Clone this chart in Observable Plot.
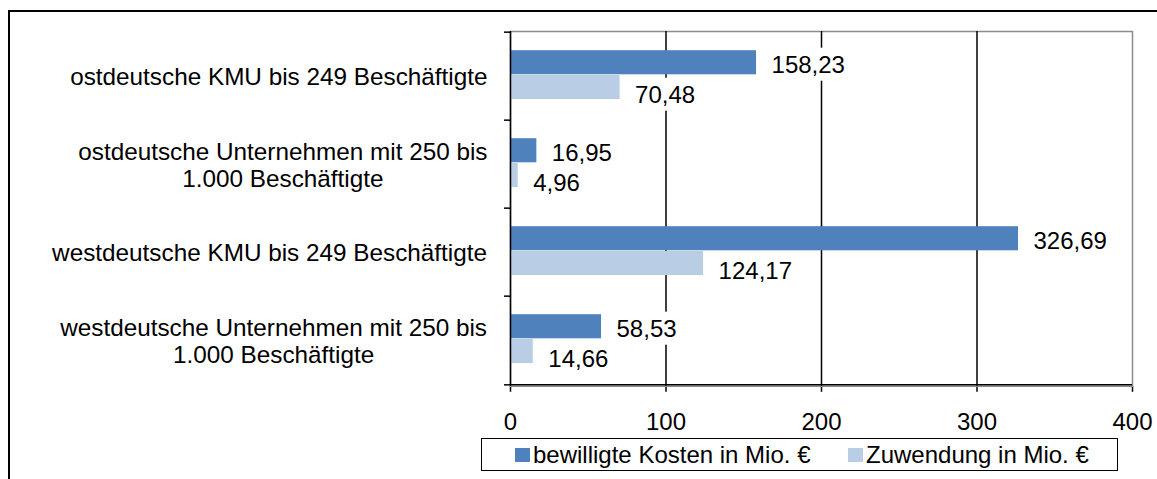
<!DOCTYPE html>
<html>
<head>
<meta charset="utf-8">
<script src="https://cdn.jsdelivr.net/npm/d3@7"></script>
<script src="https://cdn.jsdelivr.net/npm/@observablehq/plot@0.6"></script>
<style>
html, body { margin: 0; padding: 0; overflow: hidden; background: #fff; width: 1157px; height: 479px; }
#frame { position: absolute; left: 8px; top: 10px; width: 1300px; height: 700px; border: 2px solid #000; box-sizing: border-box; }
#chart { position: absolute; left: 0; top: 0; }
#legend { position: absolute; left: 481px; top: 438px; width: 637px; height: 33px; border: 1px solid #000; box-sizing: border-box; background: #fff;
  font: 24px "Liberation Sans", Arial, sans-serif; color: #000; }
#legend .item { position: absolute; top: 0; height: 31px; display: flex; align-items: center; white-space: nowrap; }
#legend .sw { width: 15px; height: 14px; margin-right: 3px; }
</style>
</head>
<body>
<div id="frame"></div>
<div id="chart"></div>
<div id="legend"></div>
<script>
const categories = [
  "ostdeutsche KMU bis 249 Beschäftigte",
  "ostdeutsche Unternehmen mit 250 bis\n1.000 Beschäftigte",
  "westdeutsche KMU bis 249 Beschäftigte",
  "westdeutsche Unternehmen mit 250 bis\n1.000 Beschäftigte"
];
const seriesNames = ["bewilligte Kosten in Mio. €", "Zuwendung in Mio. €"];
const kosten = [158.23, 16.95, 326.69, 58.53];
const zuwendung = [70.48, 4.96, 124.17, 14.66];
const xTicks = [0, 100, 200, 300, 400];
const gridValues = [100, 200, 300];
const colors = ["#4F81BD", "#B9CDE5"];

const W = 1157, H = 436;
const mL = 510, mR = 25, mT = 31, mB = 50.2;
const step = (H - mT - mB) / categories.length;
const barTop = 18.2, barH = 24.8;

const rowsK = categories.map((c, i) => ({category: c, value: kosten[i]}));
const rowsZ = categories.map((c, i) => ({category: c, value: zuwendung[i]}));
const fmt = d3.formatLocale({decimal: ",", thousands: ".", grouping: [3], currency: ["", "€"]}).format(".2f");

const plot = Plot.plot({
  width: W, height: H,
  marginLeft: mL, marginRight: mR, marginTop: mT, marginBottom: mB,
  style: {fontFamily: '"Liberation Sans", Arial, sans-serif', fontSize: "24px", color: "#000", background: "transparent", overflow: "visible"},
  x: {domain: [0, 400], ticks: xTicks, tickSize: 6, tickPadding: 21, tickFormat: d => String(d), label: null},
  y: {type: "band", domain: categories, padding: 0, axis: null},
  marks: [
    Plot.frame({stroke: "#8c8c8c", strokeWidth: 1.5}),
    Plot.ruleX(gridValues, {stroke: "#000", strokeWidth: 1.5}),
    Plot.barX(rowsK, {x: "value", y: "category", fill: colors[0], insetTop: barTop, insetBottom: step - barTop - barH}),
    Plot.barX(rowsZ, {x: "value", y: "category", fill: colors[1], insetTop: barTop + barH, insetBottom: step - barTop - 2 * barH}),
    Plot.ruleX([0], {stroke: "#000", strokeWidth: 1.5}),
    Plot.ruleY([categories[categories.length - 1]], {y: d => d, dy: step / 2, stroke: "#000", strokeWidth: 1.5}),
    Plot.ruleY(categories, {y: d => d, dy: -step / 2, insetLeft: -6, insetRight: W - mL - mR, stroke: "#000", strokeWidth: 1.5}),
    Plot.ruleY([categories[categories.length - 1]], {y: d => d, dy: step / 2, insetLeft: -6, insetRight: W - mL - mR, stroke: "#000", strokeWidth: 1.5}),
    Plot.text(categories, {y: d => d, text: d => d, frameAnchor: "left", dx: -23, textAnchor: "end", lineHeight: 1.13, fontSize: 24.3, fill: "#000"}),
    Plot.text(rowsK, {x: "value", y: "category", text: d => fmt(d.value), dx: 15, dy: -11.5, textAnchor: "start", fill: "#000"}),
    Plot.text(rowsZ, {x: "value", y: "category", text: d => fmt(d.value), dx: 15, dy: 18.5, textAnchor: "start", fill: "#000"})
  ]
});
document.getElementById("chart").appendChild(plot);

const textGroups = plot.querySelectorAll('g[aria-label="text"]');
// center multi-line category labels like the original (right-aligned block, centered lines)
if (textGroups[0]) {
  textGroups[0].querySelectorAll("text").forEach(t => {
    const w = t.getBBox().width;
    t.setAttribute("text-anchor", "middle");
    t.setAttribute("transform", (t.getAttribute("transform") || "") + ` translate(${-w / 2},0)`);
  });
}
// white label boxes behind the value labels (they hide the gridlines)
[textGroups[1], textGroups[2]].forEach(g => {
  if (!g) return;
  g.querySelectorAll("text").forEach(t => {
    const b = t.getBBox();
    const r = document.createElementNS("http://www.w3.org/2000/svg", "rect");
    r.setAttribute("x", b.x - 3);
    r.setAttribute("y", b.y - 3);
    r.setAttribute("width", b.width + 6);
    r.setAttribute("height", b.height + 6);
    r.setAttribute("fill", "#fff");
    r.setAttribute("stroke", "none");
    if (t.getAttribute("transform")) r.setAttribute("transform", t.getAttribute("transform"));
    g.insertBefore(r, t);
  });
});
plot.querySelectorAll('g[aria-label="x-axis tick"] path').forEach(p => p.setAttribute("stroke-width", "1.5"));

// legend
const legend = document.getElementById("legend");
const legendLefts = [33, 366];
seriesNames.forEach((name, i) => {
  const item = document.createElement("div");
  item.className = "item";
  item.style.left = legendLefts[i] + "px";
  const sw = document.createElement("span");
  sw.className = "sw";
  sw.style.background = colors[i];
  const label = document.createElement("span");
  label.textContent = name;
  item.appendChild(sw);
  item.appendChild(label);
  legend.appendChild(item);
});
</script>
</body>
</html>
